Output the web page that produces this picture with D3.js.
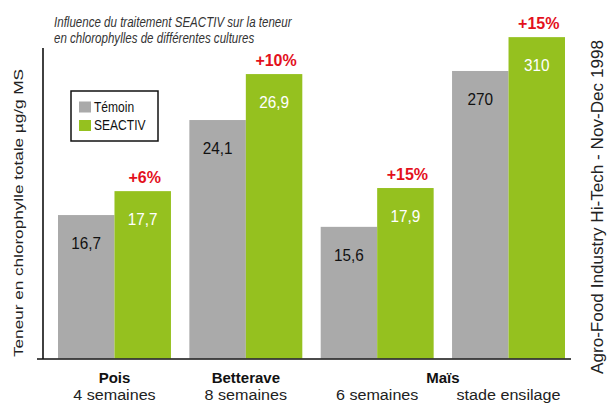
<!DOCTYPE html>
<meta charset="utf-8">
<title>Chlorophylle SEACTIV</title>
<html>
<style>
body { margin: 0; background: #fff; }
svg { display: block; font-family: "Liberation Sans", Arial, sans-serif; }
</style>
<body>
<svg width="609" height="405"></svg>

<script src="https://cdn.jsdelivr.net/npm/d3@7"></script>
<script>
// groups along x (Maïs spans two growth stages)
var groups = ["pois", "betterave", "mais6", "maisEns"];
var groupCrop = ["Pois", "Betterave", "Maïs", "Maïs"];
var groupStage = ["4 semaines", "8 semaines", "6 semaines", "stade ensilage"];
var series = ["Témoin", "SEACTIV"];

// printed values (µg/g MS)
var temoinLabels = ["16,7", "24,1", "15,6", "270"];
var seactivLabels = ["17,7", "26,9", "17,9", "310"];
var gainLabels = ["+6%", "+10%", "+15%", "+15%"];

// bar heights (0..100 = length of the axis line)
var temoinBar = [46.2, 76.8, 42.4, 92.6];
var seactivBar = [53.9, 91.6, 54.9, 103.5];

var titleLines = ["Influence du traitement SEACTIV sur la teneur",
                  "en chlorophylles de différentes cultures"];
var yTitle = "Teneur en chlorophylle totale µg/g MS";
var sourceText = "Agro-Food Industry Hi-Tech - Nov-Dec 1998";

var colors = {"Témoin": "#aaaaaa", "SEACTIV": "#95c11f"};
var red = "#e3101c";

var svg = d3.select("svg");

var x0 = d3.scaleBand().domain(groups).range([58, 565]).paddingInner(0.14).paddingOuter(0);
var x1 = d3.scaleBand().domain(series).range([0, x0.bandwidth()]).padding(0);
var y = d3.scaleLinear().domain([0, 100]).range([358.5, 48]);

// squeeze text horizontally (the source typeface is narrower)
function squeeze(sel, k) {
  sel.each(function() {
    var len = this.getComputedTextLength();
    d3.select(this).attr("textLength", len * k).attr("lengthAdjust", "spacingAndGlyphs");
  });
}

var rows = groups.map(function(g, i) {
  return {
    key: g, crop: groupCrop[i], stage: groupStage[i], gain: gainLabels[i],
    bars: [
      {s: "Témoin", v: temoinBar[i], label: temoinLabels[i]},
      {s: "SEACTIV", v: seactivBar[i], label: seactivLabels[i]}
    ]
  };
});

var gGroup = svg.append("g").selectAll("g")
  .data(rows)
  .enter().append("g")
    .attr("transform", function(d) { return "translate(" + x0(d.key) + ",0)"; });

gGroup.selectAll("rect")
  .data(function(d) { return d.bars; })
  .enter().append("rect")
    .attr("x", function(d) { return x1(d.s); })
    .attr("y", function(d) { return y(d.v); })
    .attr("width", x1.bandwidth())
    .attr("height", function(d) { return y(0) - y(d.v); })
    .attr("fill", function(d) { return colors[d.s]; });

gGroup.selectAll("text.val")
  .data(function(d) { return d.bars; })
  .enter().append("text")
    .attr("class", "val")
    .attr("x", function(d) { return x1(d.s) + x1.bandwidth() / 2; })
    .attr("y", function(d) { return y(d.v) + 34; })
    .attr("text-anchor", "middle")
    .attr("font-size", 17)
    .attr("fill", function(d) { return d.s == "SEACTIV" ? "#fff" : "#111"; })
    .text(function(d) { return d.label; })
    .call(squeeze, 0.9);

gGroup.append("text")
  .attr("x", x1("SEACTIV") + x1.bandwidth() / 2 + 2)
  .attr("y", function(d) { return y(d.bars[1].v) - 8; })
  .attr("text-anchor", "middle")
  .attr("font-size", 16)
  .attr("font-weight", "bold")
  .attr("fill", red)
  .text(function(d) { return d.gain; });

// stage labels
gGroup.append("text")
  .attr("x", x0.bandwidth() / 2)
  .attr("y", 400)
  .attr("text-anchor", "middle")
  .attr("font-size", 15.5)
  .attr("fill", "#222")
  .text(function(d) { return d.stage; })
  .call(squeeze, 1.04);

// crop labels, centred on their groups
var crops = d3.groups(rows, function(d) { return d.crop; });
svg.append("g").selectAll("text")
  .data(crops)
  .enter().append("text")
    .attr("x", function(c) {
      return d3.mean(c[1], function(d) { return x0(d.key) + x0.bandwidth() / 2; });
    })
    .attr("y", 383)
    .attr("text-anchor", "middle")
    .attr("font-size", 15)
    .attr("font-weight", "bold")
    .attr("fill", "#111")
    .text(function(c) { return c[0]; });

// axes: plain lines, no ticks
svg.append("line")
  .attr("x1", 43).attr("x2", 43)
  .attr("y1", y(100)).attr("y2", y(0) + 0.5)
  .attr("stroke", "#111").attr("stroke-width", 1.6);
svg.append("line")
  .attr("x1", 37).attr("x2", x0.range()[1] + 6)
  .attr("y1", y(0) + 0.5).attr("y2", y(0) + 0.5)
  .attr("stroke", "#111").attr("stroke-width", 1.6);

// title
svg.append("g").selectAll("text")
  .data(titleLines)
  .enter().append("text")
    .attr("x", 54)
    .attr("y", function(d, i) { return 27 + i * 16; })
    .attr("font-size", 15)
    .attr("font-style", "italic")
    .attr("fill", "#333")
    .text(function(d) { return d; })
    .call(squeeze, 0.77);

// legend
var legend = svg.append("g").attr("transform", "translate(71,91)");
legend.append("rect")
  .attr("width", 87).attr("height", 50)
  .attr("fill", "none").attr("stroke", "#111").attr("stroke-width", 1.5);
var li = legend.selectAll("g")
  .data(series)
  .enter().append("g")
    .attr("transform", function(d, i) { return "translate(8," + (10.5 + i * 18.5) + ")"; });
li.append("rect")
  .attr("width", 12).attr("height", 11)
  .attr("fill", function(d) { return colors[d]; });
li.append("text")
  .attr("x", 15).attr("y", 10)
  .attr("font-size", 14)
  .attr("fill", "#111")
  .text(function(d) { return d; })
  .call(squeeze, 0.86);

// y title
svg.append("text")
  .attr("transform", "translate(23,213) scale(0.88,1) rotate(-90)")
  .attr("text-anchor", "middle")
  .attr("font-size", 15)
  .attr("fill", "#222")
  .attr("textLength", 288)
  .attr("lengthAdjust", "spacingAndGlyphs")
  .text(yTitle);

// source
svg.append("text")
  .attr("transform", "translate(603,207) scale(0.92,1) rotate(-90)")
  .attr("text-anchor", "middle")
  .attr("font-size", 17)
  .attr("fill", "#222")
  .attr("textLength", 334)
  .attr("lengthAdjust", "spacingAndGlyphs")
  .text(sourceText);
</script>
</body>
</html>
